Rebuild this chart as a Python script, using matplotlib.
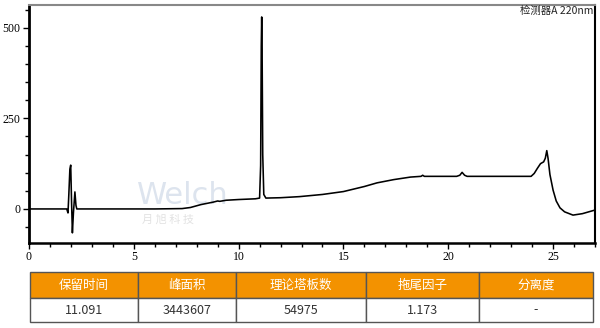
import matplotlib
matplotlib.use("Agg")
import matplotlib.pyplot as plt
from matplotlib.patches import Rectangle
from matplotlib.ticker import MultipleLocator

plt.rcParams['font.family'] = ['Noto Sans CJK SC', 'DejaVu Sans']

# chromatogram trace (min, mAU)
time = [0.0, 1.80, 1.86, 1.90, 1.95, 1.99, 2.03, 2.07, 2.12, 2.19, 2.24, 2.28,
        4.0, 6.0, 7.3, 7.7, 8.2, 8.8, 9.0, 9.1, 9.4, 10.0, 10.8, 11.00,
        11.05, 11.08, 11.10, 11.12, 11.15, 11.20, 11.30, 12.0, 12.9, 14.0,
        15.0, 16.0, 16.6, 17.4, 18.2, 18.7, 18.78, 18.86, 19.5, 20.4, 20.55,
        20.66, 20.78, 20.9, 22.0, 23.0, 23.95, 24.1, 24.25, 24.4, 24.55,
        24.63, 24.70, 24.76, 24.85, 25.0, 25.15, 25.33, 25.55, 25.95, 26.4,
        27.0]
signal = [0, 0, -11, 40, 110, 121, 20, -66, -10, 47, 10, 0,
          0, 0, 1, 4, 12, 19, 22, 21, 24, 26, 28, 30,
          120, 450, 530, 440, 150, 40, 30, 31, 34, 40,
          48, 62, 72, 81, 88, 90, 93, 90, 90, 90, 93,
          101, 93, 90, 90, 90, 90, 98, 112, 125, 130,
          140, 161, 140, 95, 52, 22, 3, -8, -17, -13,
          -3]

x_major = [0, 5, 10, 15, 20, 25]
y_major = [0, 250, 500]

headers = ['保留时间', '峰面积', '理论塔板数', '拖尾因子', '分离度']
values = ['11.091', '3443607', '54975', '1.173', '-']
col_edges_px = [30, 138, 236, 366, 479, 593]

W, H = 600, 328
fig = plt.figure(figsize=(W / 100, H / 100), dpi=100)
ax = fig.add_axes([29 / W, 1 - 243 / H, (595 - 29) / W, (243 - 5) / H])

ax.plot(time, signal, color='black', lw=1.15, solid_joinstyle='round')
ax.set_xlim(0, 27)
ax.set_ylim(-94, 563)
ax.set_xticks(x_major)
ax.set_yticks(y_major)
ax.xaxis.set_minor_locator(MultipleLocator(1))
ax.yaxis.set_minor_locator(MultipleLocator(50))
ax.tick_params(which='both', direction='out', width=1, colors='black')
ax.tick_params(which='major', length=4, labelsize=8.5, pad=2)
ax.tick_params(which='minor', length=3)
for lab in ax.get_xticklabels() + ax.get_yticklabels():
    lab.set_family('Liberation Serif')
ax.spines['left'].set_linewidth(2)
ax.spines['bottom'].set_linewidth(1.8)
ax.spines['top'].set_color('#888888')
ax.spines['top'].set_linewidth(1.5)
ax.spines['right'].set_linewidth(1.5)

ax.text(0.998, 0.995, '检测器A 220nm', transform=ax.transAxes, ha='right', va='top',
        fontsize=7.5, family=['Noto Sans CJK SC', 'Liberation Serif'], color='#222222')

# faint watermark
ax.text(0.19, 0.20, 'Welch', transform=ax.transAxes, fontsize=22, color='#dde4ee',
        ha='left', va='center', family='DejaVu Sans', zorder=0)
ax.text(0.2, 0.10, '月 旭 科 技', transform=ax.transAxes, fontsize=8, color='#e2e2e2',
        ha='left', va='center', zorder=0)

# results table
tab = fig.add_axes([0, 0, 1, 1], zorder=3)
tab.set_xlim(0, W)
tab.set_ylim(H, 0)
tab.axis('off')
rows = [(272, 298, headers, '#F39200', 'white'), (298, 322, values, 'white', '#333333')]
for y0, y1, texts, bg, fg in rows:
    for i, txt in enumerate(texts):
        x0, x1 = col_edges_px[i], col_edges_px[i + 1]
        tab.add_patch(Rectangle((x0, y0), x1 - x0, y1 - y0, facecolor=bg,
                                edgecolor='#555555', lw=1))
        tab.text((x0 + x1) / 2, (y0 + y1) / 2, txt, ha='center', va='center',
                 fontsize=9, color=fg)

fig.savefig('out.png', dpi=100)
